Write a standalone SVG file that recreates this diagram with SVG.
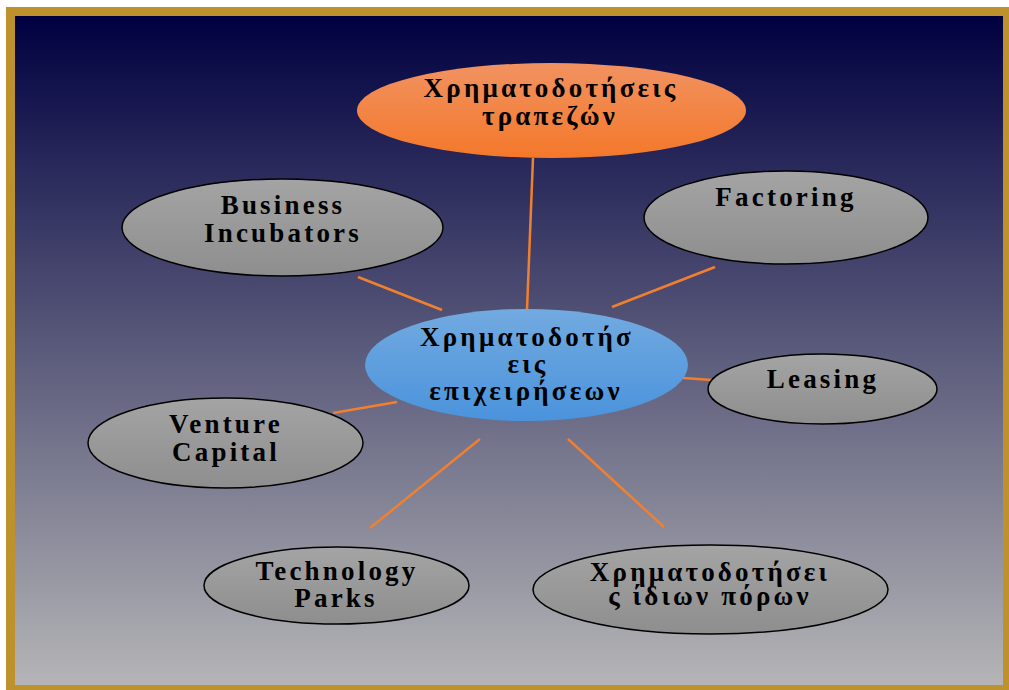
<svg xmlns="http://www.w3.org/2000/svg" width="1009" height="690" viewBox="0 0 1009 690">
  <defs>
    <linearGradient id="bg" x1="0" y1="0" x2="0" y2="1">
      <stop offset="0" stop-color="#000040"/>
      <stop offset="1" stop-color="#b5b5b7"/>
    </linearGradient>
    <linearGradient id="grey" x1="0" y1="0" x2="0" y2="1">
      <stop offset="0" stop-color="#a4a4a4"/>
      <stop offset="1" stop-color="#8e8e8e"/>
    </linearGradient>
    <linearGradient id="orange" x1="0" y1="0" x2="0" y2="1">
      <stop offset="0" stop-color="#f19261"/>
      <stop offset="1" stop-color="#f4782a"/>
    </linearGradient>
    <linearGradient id="blue" x1="0" y1="0" x2="0" y2="1">
      <stop offset="0" stop-color="#72aae0"/>
      <stop offset="1" stop-color="#4a93dc"/>
    </linearGradient>
  </defs>
  <style>
    .g { fill: url(#grey); stroke: #000; stroke-width: 1.5; }
    .t { font-family: "Liberation Serif", "Times New Roman", serif; font-weight: bold; font-size: 27px; letter-spacing: 3.2px; fill: #000; text-anchor: middle; }
    .c { stroke: #f08030; stroke-width: 2.5; fill: none; }
  </style>
  <rect x="6" y="7" width="1003" height="683" fill="#bd922c"/>
  <rect x="15" y="16" width="988" height="669" fill="url(#bg)"/>
  <g id="connectors">
    <line class="c" x1="533" y1="158" x2="527" y2="310"/>
    <line class="c" x1="358" y1="277" x2="442" y2="310"/>
    <line class="c" x1="715" y1="267" x2="612" y2="307"/>
    <line class="c" x1="683" y1="378" x2="712" y2="380"/>
    <line class="c" x1="333" y1="413" x2="397" y2="402"/>
    <line class="c" x1="370" y1="528" x2="480" y2="439"/>
    <line class="c" x1="568" y1="439" x2="664" y2="527"/>
  </g>
  <g id="banks">
    <ellipse cx="551.5" cy="110.5" rx="194.5" ry="47.5" fill="url(#orange)"/>
    <text class="t" x="551" y="97">Χρηματοδοτήσεις</text>
    <text class="t" x="550" y="125">τραπεζών</text>
  </g>
  <g id="center">
    <ellipse cx="526.5" cy="365" rx="161.5" ry="56" fill="url(#blue)"/>
    <text class="t" x="527" y="346">Χρηματοδοτήσ</text>
    <text class="t" x="528" y="373">εις</text>
    <text class="t" x="526" y="400">επιχειρήσεων</text>
  </g>
  <g id="incubators">
    <ellipse class="g" cx="282.5" cy="227.5" rx="160.5" ry="48.5"/>
    <text class="t" x="283" y="214">Business</text>
    <text class="t" x="283" y="242">Incubators</text>
  </g>
  <g id="factoring">
    <ellipse class="g" cx="786" cy="217.5" rx="142" ry="46.5"/>
    <text class="t" x="786" y="206">Factoring</text>
  </g>
  <g id="leasing">
    <ellipse class="g" cx="822.5" cy="389" rx="114.5" ry="35"/>
    <text class="t" x="823" y="388">Leasing</text>
  </g>
  <g id="venture">
    <ellipse class="g" cx="225.5" cy="443" rx="137.5" ry="45"/>
    <text class="t" x="226" y="433">Venture</text>
    <text class="t" x="226" y="461">Capital</text>
  </g>
  <g id="parks">
    <ellipse class="g" cx="336.5" cy="585.5" rx="132.5" ry="38.5"/>
    <text class="t" x="337" y="580">Technology</text>
    <text class="t" x="336" y="607">Parks</text>
  </g>
  <g id="own">
    <ellipse class="g" cx="710.5" cy="589.5" rx="177.5" ry="44.5"/>
    <text class="t" x="710" y="581">Χρηματοδοτήσει</text>
    <text class="t" x="710" y="605">ς ίδιων πόρων</text>
  </g>
</svg>
